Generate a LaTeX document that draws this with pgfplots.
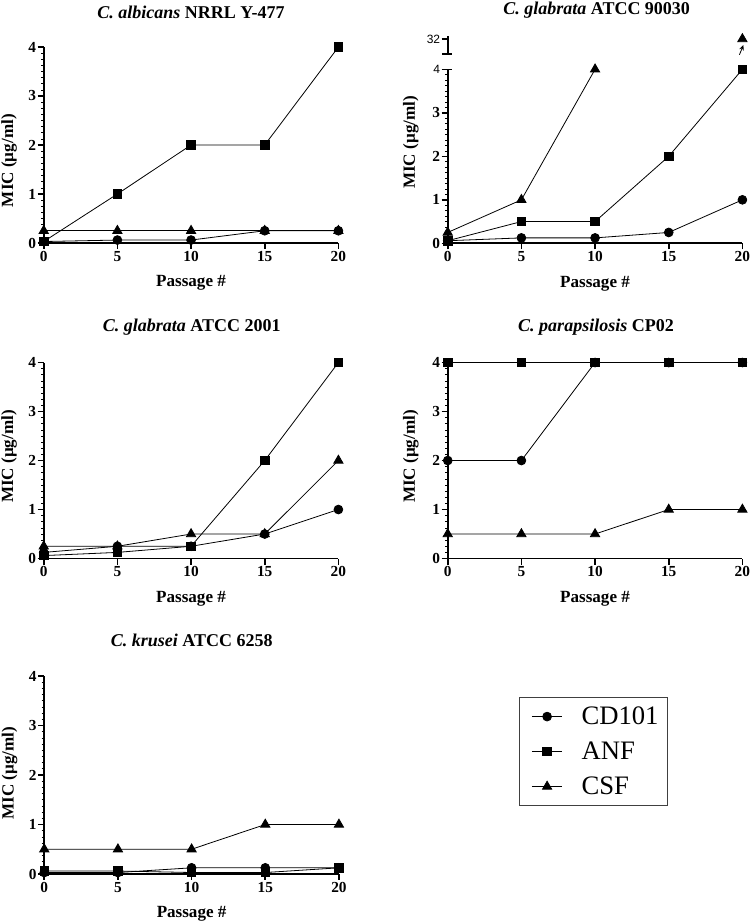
\documentclass[border=0pt]{standalone}
\usepackage{fontspec}
\setmainfont{Liberation Serif}
\setsansfont{Liberation Sans}
\usepackage{pgfplots}
\pgfplotsset{compat=1.18}
\usetikzlibrary{arrows.meta}

\newcommand\tfont{\fontsize{13.5}{16}\selectfont\bfseries}
\newcommand\tickfont{\fontsize{11.5}{13}\selectfont\bfseries}
\newcommand\labfont{\fontsize{12.8}{14}\selectfont\bfseries}

\pgfplotsset{
 panel/.style={
  scale only axis, width=221pt, height=147pt,
  xmin=0,xmax=20,ymin=0,ymax=4,
  axis lines=left,
  axis line style={-, line width=1.4pt},
  xtick={0,5,10,15,20}, ytick={0,1,2,3,4},
  minor y tick num=7,
  tick align=outside,
  major tick length=4.5pt, minor tick length=2pt,
  major tick style={black, line width=1.2pt},
  minor tick style={black, line width=0.5pt},
  /pgf/number format/assume math mode=true,
  tick label style={font=\tickfont},
  yticklabel style={inner xsep=1pt},
  xticklabel style={inner ysep=1.5pt},
  xlabel={Passage \#},
  ylabel={MIC (µg/ml)},
  label style={font=\labfont},
  xlabel style={at={(axis description cs:0.5,0)}, anchor=center, yshift=-30pt},
  clip=false,
 },
 cd/.style={black, line width=0.6pt, mark=*, mark size=3.3pt},
 an/.style={black, line width=0.6pt, mark=square*, mark size=3.2pt},
 cs/.style={black, line width=0.6pt, mark=triangle*, mark size=4pt},
}

\begin{document}
\begin{tikzpicture}
\useasboundingbox (0,0) rectangle (562.5pt,691.5pt);

% titles
\node[font=\tfont, anchor=base] at (143.25pt,677.25pt) {{\itshape C. albicans} NRRL Y-477};
\node[font=\tfont, anchor=base] at (447.5pt,680.25pt) {{\itshape C. glabrata} ATCC 90030};
\node[font=\tfont, anchor=base] at (143.8pt,442.5pt) {{\itshape C. glabrata} ATCC 2001};
\node[font=\tfont, anchor=base] at (447pt,442.5pt) {{\itshape C. parapsilosis} CP02};
\node[font=\tfont, anchor=base] at (143.8pt,206.25pt) {{\itshape C. krusei} ATCC 6258};

% Panel 1
\begin{axis}[panel, at={(32.8pt,509.25pt)}, anchor=south west,
  ylabel style={at={(axis description cs:-0.118,0.42)}, anchor=center}]
\addplot[cs] coordinates {(0,0.25)(5,0.25)(10,0.25)(15,0.25)(20,0.25)};
\addplot[cd] coordinates {(0,0.03)(5,0.06)(10,0.06)(15,0.25)(20,0.25)};
\addplot[an] coordinates {(0,0.03)(5,1)(10,2)(15,2)(20,4)};
\end{axis}

% Panel 2 lower
\begin{axis}[panel, height=130.5pt, at={(335.8pt,509pt)}, anchor=south west,
  yticklabels={0,1,2,3,{\sffamily\mdseries\fontsize{9}{10}\selectfont 4}},
  ylabel style={at={(axis description cs:-0.125,0.58)}, anchor=center}]
\addplot[cs] coordinates {(0,0.25)(5,1)(10,4)};
\addplot[cd] coordinates {(0,0.06)(5,0.125)(10,0.125)(15,0.25)(20,1)};
\addplot[an] coordinates {(0,0.06)(5,0.5)(10,0.5)(15,2)(20,4)};
\draw[line width=1.2pt] (axis cs:-0.05,4) -- (axis cs:0.3,4);
\end{axis}

% Panel 2 upper (axis break)
\begin{axis}[scale only axis, width=221pt, height=13.5pt, at={(335.8pt,651pt)}, anchor=south west,
  xmin=0,xmax=20,ymin=30,ymax=32.4,
  axis x line=none, axis y line=left, axis line style={-, line width=1.4pt},
  xtick=\empty, ytick={32}, yticklabels={\sffamily\fontsize{9}{10}\selectfont 32},
  tick align=outside, major tick length=4.5pt, major tick style={black, line width=1.2pt},
  yticklabel style={inner xsep=1pt},
  clip=false]
\addplot[cs, only marks] coordinates {(20,32)};
\draw[line width=1.2pt] (axis cs:-0.36,30) -- (axis cs:0.3,30);
\draw[black, line width=0.6pt, -{Stealth[length=4pt,width=3.5pt]}] (axis cs:19.8,29.9) -- (axis cs:20.07,31.2);
\end{axis}

% Panel 3
\begin{axis}[panel, at={(32.8pt,272.6pt)}, anchor=south west,
  ylabel style={at={(axis description cs:-0.118,0.52)}, anchor=center}]
\addplot[cs] coordinates {(0,0.25)(5,0.25)(10,0.5)(15,0.5)(20,2)};
\addplot[cd] coordinates {(0,0.125)(5,0.25)(10,0.25)(15,0.5)(20,1)};
\addplot[an] coordinates {(0,0.06)(5,0.125)(10,0.25)(15,2)(20,4)};
\end{axis}

% Panel 4
\begin{axis}[panel, at={(335.8pt,272.6pt)}, anchor=south west,
  ylabel style={at={(axis description cs:-0.125,0.52)}, anchor=center}]
\addplot[cs] coordinates {(0,0.5)(5,0.5)(10,0.5)(15,1)(20,1)};
\addplot[cd] coordinates {(0,2)(5,2)(10,4)(15,4)(20,4)};
\addplot[an] coordinates {(0,4)(5,4)(10,4)(15,4)(20,4)};
\end{axis}

% Panel 5 with legend
\begin{axis}[panel, height=148.5pt, at={(33.2pt,36pt)}, anchor=south west,
  ylabel style={at={(axis description cs:-0.118,0.51)}, anchor=center},
  legend style={at={(axis description cs:1.611,0.894)}, anchor=north west,
    draw=black!75, line width=0.6pt, font=\fontsize{20}{23}\selectfont,
    row sep=7.5pt, inner xsep=5pt, inner ysep=5pt},
  legend cell align=left,
  legend image code/.code={\path (-4pt,0pt) (35pt,0pt);\draw[mark repeat=2,mark phase=2,#1] plot coordinates {(0pt,0pt)(11.5pt,0pt)(23pt,0pt)};}]
\addplot[cs, forget plot] coordinates {(0,0.5)(5,0.5)(10,0.5)(15,1)(20,1)};
\addplot[cd, forget plot] coordinates {(0,0.03)(5,0.03)(10,0.125)(15,0.125)(20,0.125)};
\addplot[an, forget plot] coordinates {(0,0.06)(5,0.06)(10,0.03)(15,0.03)(20,0.125)};
\addlegendimage{cd}
\addlegendimage{an}
\addlegendimage{cs}
\legend{CD101,ANF,CSF}
\end{axis}
\end{tikzpicture}
\end{document}
